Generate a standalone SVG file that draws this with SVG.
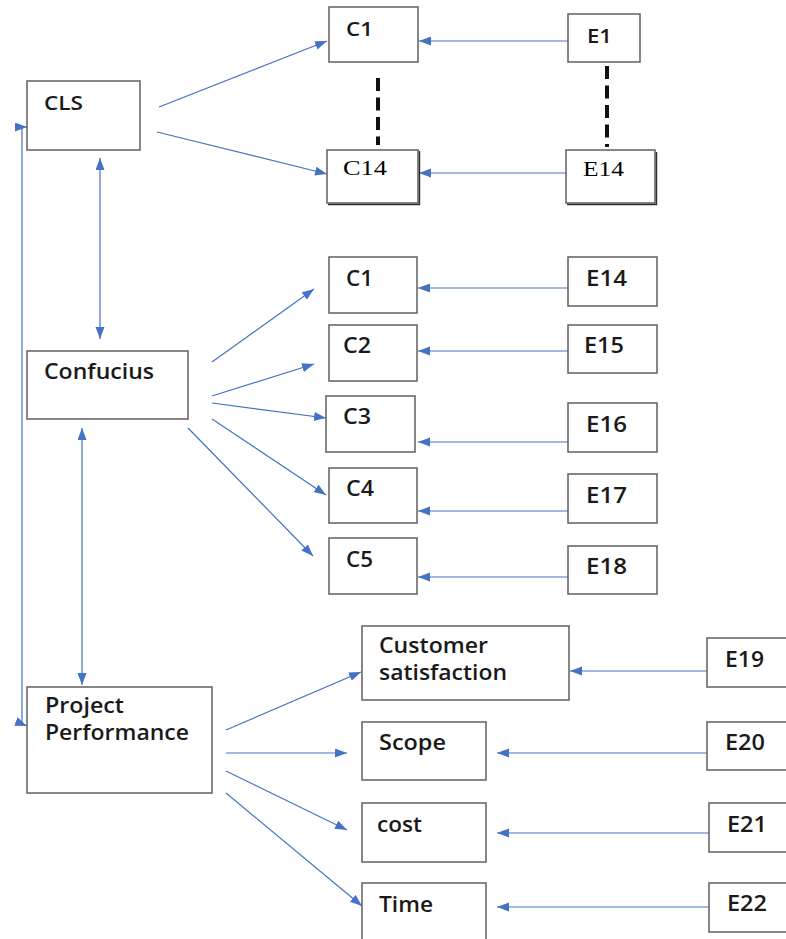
<svg xmlns="http://www.w3.org/2000/svg" width="786" height="939" viewBox="0 0 786 939">
  <defs>
    <marker id="arrow" markerUnits="userSpaceOnUse" markerWidth="13" markerHeight="10" refX="12" refY="4.5" orient="auto-start-reverse">
      <path d="M0,0 L12,4.5 L0,9 Z" fill="#4472C4"/>
    </marker>
    <style>
      .box { fill: #ffffff; stroke: #5f5f5f; stroke-width: 1.5; }
      .shadow { fill: none; stroke: #2e2e2e; stroke-width: 1.4; }
      .lbl { font-family: "Open Sans", "DejaVu Sans", sans-serif; font-size: 21px; font-weight: 600; fill: #1a1a1a; }
      .sm { font-size: 19px; }
      .serif { font-family: "Liberation Serif", "DejaVu Serif", serif; font-size: 20px; fill: #000000; }
      .conn { fill: none; stroke: #4472C4; stroke-width: 1.2; }
      .arr { marker-end: url(#arrow); }
      .both { marker-start: url(#arrow); marker-end: url(#arrow); }
      .dash { fill: none; stroke: #111111; stroke-width: 4; stroke-dasharray: 13 6.5; }
    </style>
  </defs>
  <rect width="786" height="939" fill="#ffffff"/>

  <!-- connectors -->
  <g id="connectors">
    <!-- CLS fan-out -->
    <line class="conn arr" x1="159" y1="107" x2="327" y2="41"/>
    <line class="conn arr" x1="157" y1="132" x2="327" y2="174"/>
    <line class="conn arr" x1="568" y1="41" x2="419" y2="41"/>
    <line class="conn arr" x1="566" y1="173" x2="419" y2="173"/>
    <line class="dash" x1="378" y1="78" x2="378" y2="145"/>
    <line class="dash" x1="607" y1="66" x2="607" y2="147"/>

    <!-- vertical links between main blocks -->
    <line class="conn both" x1="100" y1="158" x2="100" y2="339"/>
    <line class="conn both" x1="82" y1="428" x2="82" y2="685"/>
    <path class="conn both" d="M27,127 L22,127 L22,724 L27,726"/>

    <!-- Confucius fan-out -->
    <line class="conn arr" x1="212" y1="362" x2="314" y2="289"/>
    <line class="conn arr" x1="212" y1="396" x2="314" y2="364"/>
    <line class="conn arr" x1="212" y1="403" x2="326" y2="418"/>
    <line class="conn arr" x1="212" y1="419" x2="326" y2="495"/>
    <line class="conn arr" x1="188" y1="428" x2="313" y2="556"/>
    <line class="conn arr" x1="568" y1="288" x2="418" y2="288"/>
    <line class="conn arr" x1="568" y1="351" x2="418" y2="351"/>
    <line class="conn arr" x1="568" y1="442" x2="418" y2="442"/>
    <line class="conn arr" x1="568" y1="511" x2="418" y2="511"/>
    <line class="conn arr" x1="568" y1="577" x2="418" y2="577"/>

    <!-- Project Performance fan-out -->
    <line class="conn arr" x1="226" y1="730" x2="361" y2="672"/>
    <line class="conn arr" x1="226" y1="753" x2="347" y2="753"/>
    <line class="conn arr" x1="226" y1="771" x2="347" y2="830"/>
    <line class="conn arr" x1="226" y1="793" x2="362" y2="906"/>
    <line class="conn arr" x1="707" y1="671" x2="570" y2="671"/>
    <line class="conn arr" x1="707" y1="753" x2="497" y2="753"/>
    <line class="conn arr" x1="709" y1="833" x2="497" y2="833"/>
    <line class="conn arr" x1="709" y1="907" x2="497" y2="907"/>
  </g>

  <!-- main blocks -->
  <g id="cls">
    <rect class="box" x="27" y="81" width="113" height="69"/>
    <text class="lbl sm" x="44" y="110" textLength="39" lengthAdjust="spacingAndGlyphs">CLS</text>
  </g>
  <g id="confucius">
    <rect class="box" x="27" y="351" width="161" height="68"/>
    <text class="lbl" x="44" y="379" textLength="110" lengthAdjust="spacingAndGlyphs">Confucius</text>
  </g>
  <g id="project-performance">
    <rect class="box" x="27" y="687" width="185" height="106"/>
    <text class="lbl" x="45" y="713" textLength="79" lengthAdjust="spacingAndGlyphs">Project</text>
    <text class="lbl" x="45" y="740" textLength="144" lengthAdjust="spacingAndGlyphs">Performance</text>
  </g>

  <!-- CLS dimensions -->
  <g id="cls-c1">
    <rect class="box" x="329" y="7" width="89" height="55"/>
    <text class="lbl sm" x="346" y="36" textLength="27" lengthAdjust="spacingAndGlyphs">C1</text>
  </g>
  <g id="cls-c14">
    <rect class="box" x="327" y="150" width="91" height="53"/>
    <polyline class="shadow" points="419.5,151 419.5,204.5 328,204.5"/>
    <text class="serif" x="343" y="175" textLength="44" lengthAdjust="spacingAndGlyphs">C14</text>
  </g>
  <g id="cls-e1">
    <rect class="box" x="568" y="14" width="72" height="48"/>
    <text class="lbl sm" x="587" y="43" textLength="25" lengthAdjust="spacingAndGlyphs">E1</text>
  </g>
  <g id="cls-e14">
    <rect class="box" x="566" y="150" width="89" height="53"/>
    <polyline class="shadow" points="656.5,152 656.5,204.5 567,204.5"/>
    <text class="serif" x="583" y="176" textLength="41" lengthAdjust="spacingAndGlyphs">E14</text>
  </g>

  <!-- Confucius dimensions -->
  <g id="con-c1">
    <rect class="box" x="329" y="257" width="88" height="56"/>
    <text class="lbl" x="346" y="286" textLength="27" lengthAdjust="spacingAndGlyphs">C1</text>
  </g>
  <g id="con-c2">
    <rect class="box" x="329" y="325" width="88" height="56"/>
    <text class="lbl" x="343" y="353" textLength="28" lengthAdjust="spacingAndGlyphs">C2</text>
  </g>
  <g id="con-c3">
    <rect class="box" x="326" y="396" width="89" height="56"/>
    <text class="lbl" x="343" y="424" textLength="28" lengthAdjust="spacingAndGlyphs">C3</text>
  </g>
  <g id="con-c4">
    <rect class="box" x="329" y="468" width="88" height="55"/>
    <text class="lbl" x="346" y="496" textLength="28" lengthAdjust="spacingAndGlyphs">C4</text>
  </g>
  <g id="con-c5">
    <rect class="box" x="329" y="538" width="88" height="56"/>
    <text class="lbl" x="346" y="567" textLength="27" lengthAdjust="spacingAndGlyphs">C5</text>
  </g>
  <g id="con-e14">
    <rect class="box" x="568" y="257" width="89" height="49"/>
    <text class="lbl" x="586" y="286" textLength="41" lengthAdjust="spacingAndGlyphs">E14</text>
  </g>
  <g id="con-e15">
    <rect class="box" x="568" y="325" width="89" height="48"/>
    <text class="lbl" x="584" y="353" textLength="40" lengthAdjust="spacingAndGlyphs">E15</text>
  </g>
  <g id="con-e16">
    <rect class="box" x="568" y="403" width="89" height="49"/>
    <text class="lbl" x="586" y="432" textLength="41" lengthAdjust="spacingAndGlyphs">E16</text>
  </g>
  <g id="con-e17">
    <rect class="box" x="568" y="474" width="89" height="49"/>
    <text class="lbl" x="586" y="503" textLength="41" lengthAdjust="spacingAndGlyphs">E17</text>
  </g>
  <g id="con-e18">
    <rect class="box" x="568" y="546" width="89" height="48"/>
    <text class="lbl" x="586" y="574" textLength="41" lengthAdjust="spacingAndGlyphs">E18</text>
  </g>

  <!-- Project performance dimensions -->
  <g id="pp-customer">
    <rect class="box" x="362" y="626" width="207" height="74"/>
    <text class="lbl" x="379" y="653" textLength="109" lengthAdjust="spacingAndGlyphs">Customer</text>
    <text class="lbl" x="379" y="680" textLength="128" lengthAdjust="spacingAndGlyphs">satisfaction</text>
  </g>
  <g id="pp-scope">
    <rect class="box" x="362" y="722" width="124" height="58"/>
    <text class="lbl" x="379" y="750" textLength="67" lengthAdjust="spacingAndGlyphs">Scope</text>
  </g>
  <g id="pp-cost">
    <rect class="box" x="362" y="803" width="124" height="59"/>
    <text class="lbl" x="377" y="832" textLength="45" lengthAdjust="spacingAndGlyphs">cost</text>
  </g>
  <g id="pp-time">
    <rect class="box" x="362" y="883" width="124" height="70"/>
    <text class="lbl" x="379" y="912" textLength="54" lengthAdjust="spacingAndGlyphs">Time</text>
  </g>
  <g id="pp-e19">
    <rect class="box" x="707" y="638" width="95" height="49"/>
    <text class="lbl" x="725" y="667" textLength="39" lengthAdjust="spacingAndGlyphs">E19</text>
  </g>
  <g id="pp-e20">
    <rect class="box" x="707" y="722" width="95" height="48"/>
    <text class="lbl" x="725" y="750" textLength="40" lengthAdjust="spacingAndGlyphs">E20</text>
  </g>
  <g id="pp-e21">
    <rect class="box" x="709" y="803" width="93" height="49"/>
    <text class="lbl" x="727" y="832" textLength="40" lengthAdjust="spacingAndGlyphs">E21</text>
  </g>
  <g id="pp-e22">
    <rect class="box" x="709" y="883" width="93" height="49"/>
    <text class="lbl" x="727" y="911" textLength="40" lengthAdjust="spacingAndGlyphs">E22</text>
  </g>
</svg>
